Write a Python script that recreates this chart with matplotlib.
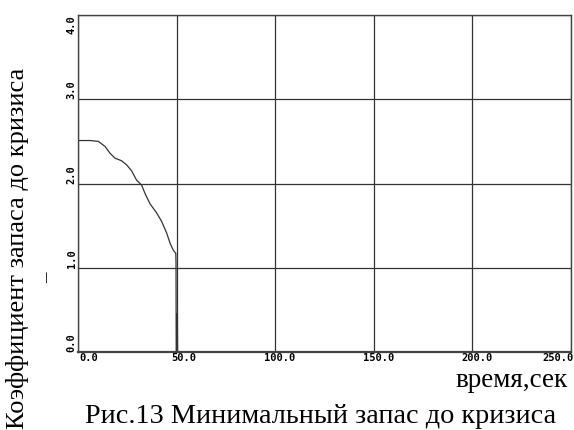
import matplotlib
matplotlib.use("Agg")
import matplotlib.pyplot as plt
import matplotlib.transforms as mtransforms
from matplotlib.font_manager import FontProperties

time_s = [0.0, 6.1, 10.3, 13.7, 16.2, 18.8, 22.1, 24.7, 27.2, 29.7, 32.3, 34.0,
          36.5, 39.9, 42.4, 45.0, 46.7, 48.3, 49.6, 49.7, 49.8, 50.3, 50.4, 50.5, 250.0]
margin = [2.51, 2.51, 2.50, 2.44, 2.36, 2.30, 2.27, 2.22, 2.15, 2.04, 1.98, 1.88,
          1.76, 1.65, 1.55, 1.41, 1.29, 1.21, 1.17, 1.05, 0.0, 0.0, 0.46, 0.0, 0.0]
x_ticks = [0, 50, 100, 150, 200, 250]
x_labels = ["0.0", "50.0", "100.0", "150.0", "200.0", "250.0"]
y_ticks = [0, 1, 2, 3, 4]
y_labels = ["0.0", "1.0", "2.0", "3.0", "4.0"]

fig = plt.figure(figsize=(5.74, 4.30), dpi=100)
ax = fig.add_axes([78/574, 1-352/430, (571-78)/574, (352-15)/430])
ax.plot(time_s, margin, color="#333333", lw=0.9)
ax.set_xlim(0, 250)
ax.set_ylim(0, 4)
ax.set_xticks(x_ticks)
ax.set_xticklabels(x_labels)
ax.set_yticks(y_ticks)
ax.set_yticklabels(y_labels)
ax.grid(True, color="#333333", lw=0.9)
for s in ax.spines.values():
    s.set_color("#444444")
    s.set_linewidth(1.0)
ax.spines["bottom"].set_linewidth(1.6)
ax.tick_params(length=0, pad=1)

mono = dict(family="DejaVu Sans Mono", weight="bold", size=7.5)
labs = ax.get_xticklabels()
for i, lab in enumerate(labs):
    dx = 3 if i == len(labs) - 1 else 20
    lab.set_fontproperties(FontProperties(**mono))
    lab.set_ha("right")
    lab.set_transform(lab.get_transform() +
                      mtransforms.ScaledTranslation(dx/100, 0, fig.dpi_scale_trans))
for i, lab in enumerate(ax.get_yticklabels()):
    lab.set_fontproperties(FontProperties(**mono))
    lab.set_rotation(90)
    lab.set_rotation_mode("anchor")
    lab.set_va("bottom")
    lab.set_ha("right" if i == len(y_ticks) - 1 else "left")

fig.text(18/574, 1-248/430, "Коэффициент запаса до кризиса", rotation=90,
         family="Liberation Serif", fontsize=19, ha="center", va="center")
fig.text(48/574, 1-278/430, "–", rotation=90, family="Liberation Serif",
         fontsize=15, ha="center", va="center")
fig.text(568/574, 1-387/430, "время,сек", family="Liberation Serif",
         fontsize=19.5, ha="right", va="baseline")
fig.text(85/574, 1-423/430, "Рис.13 Минимальный запас до кризиса",
         family="Liberation Serif", fontsize=20.3, ha="left", va="baseline")

fig.savefig("out.png", dpi=100)
